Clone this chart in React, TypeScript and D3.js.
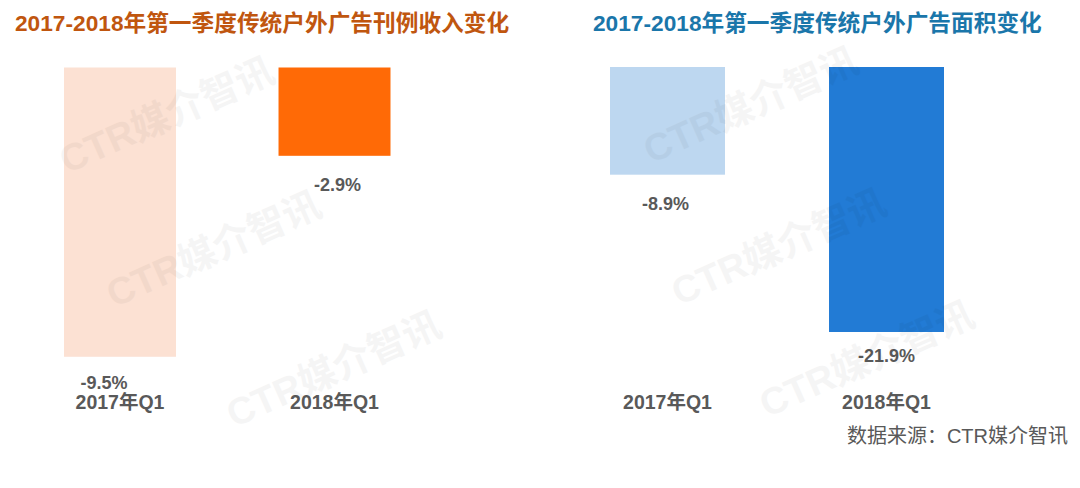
import React from "react";
import * as d3 from "d3";

const categories = ["2017年Q1", "2018年Q1"];
const revenueChange = [-9.5, -2.9];
const areaChange = [-8.9, -21.9];
const revenueLabels = ["-9.5%", "-2.9%"];
const areaLabels = ["-8.9%", "-21.9%"];
const titleLeft = "2017-2018年第一季度传统户外广告刊例收入变化";
const titleRight = "2017-2018年第一季度传统户外广告面积变化";
const sourceText = "数据来源：CTR媒介智讯";
const watermark = "CTR媒介智讯";

const FONT = "'Liberation Sans', Arial, 'Noto Sans CJK SC', sans-serif";
const W = 1080;
const H = 488;

type PanelProps = {
  values: number[];
  labels: string[];
  colors: string[];
  xRange: [number, number];
  pInner: number;
  yDomainMin: number;
  yRange: [number, number];
  labelDx: number[];
  labelDy: number[];
};

function Panel({ values, labels, colors, xRange, pInner, yDomainMin, yRange, labelDx, labelDy }: PanelProps) {
  const x = d3.scaleBand<string>().domain(categories).range(xRange).paddingInner(pInner).paddingOuter(0.2);
  const y = d3.scaleLinear().domain([0, yDomainMin]).range(yRange);
  return (
    <g>
      {categories.map((c, i) => (
        <rect
          key={c}
          x={x(c)}
          y={y(0)}
          width={x.bandwidth()}
          height={y(values[i]) - y(0)}
          fill={colors[i]}
        />
      ))}
      {categories.map((c, i) => (
        <text
          key={"l" + c}
          x={(x(c) as number) + x.bandwidth() / 2 + labelDx[i]}
          y={y(values[i]) + labelDy[i]}
          textAnchor="middle"
          fontFamily={FONT}
          fontWeight="bold"
          fontSize={18}
          fill="#595959"
        >
          {labels[i]}
        </text>
      ))}
      {categories.map((c) => (
        <text
          key={"c" + c}
          x={(x(c) as number) + x.bandwidth() / 2}
          y={409}
          textAnchor="middle"
          fontFamily={FONT}
          fontWeight="bold"
          fontSize={19.5}
          fill="#595959"
        >
          {c}
        </text>
      ))}
    </g>
  );
}

const wmPositions: [number, number][] = [
  [168, 118],
  [215, 252],
  [335, 372],
  [752, 108],
  [780, 250],
  [868, 362],
];

export default function App() {
  return (
    <svg
      width={W}
      height={H}
      style={{ position: "absolute", left: 0, top: 0, display: "block", background: "#fff" }}
    >
      <rect width={W} height={H} fill="#ffffff" />
      <text x={15} y={31} fontFamily={FONT} fontWeight="bold" fontSize={22.7} fill="#c0560f">
        {titleLeft}
      </text>
      <text x={593} y={31} fontFamily={FONT} fontWeight="bold" fontSize={22.7} fill="#1a76aa">
        {titleRight}
      </text>
      <Panel
        values={revenueChange}
        labels={revenueLabels}
        colors={["#fce1d3", "#ff6a06"]}
        xRange={[21.1, 433.4]}
        pInner={0.478}
        yDomainMin={-10}
        yRange={[67.5, 372]}
        labelDx={[-16, 3]}
        labelDy={[32, 35]}
      />
      <Panel
        values={areaChange}
        labels={areaLabels}
        colors={["#bdd7f0", "#227bd5"]}
        xRange={[566.2, 987.8]}
        pInner={0.475}
        yDomainMin={-25}
        yRange={[67, 369.5]}
        labelDx={[-2, 0]}
        labelDy={[35, 30]}
      />
      {wmPositions.map(([cx, cy], i) => (
        <text
          key={"wm" + i}
          x={cx}
          y={cy}
          textAnchor="middle"
          dominantBaseline="middle"
          transform={`rotate(-24 ${cx} ${cy})`}
          fontFamily={FONT}
          fontWeight="bold"
          fontSize={38}
          fill="#000"
          opacity={0.035}
        >
          {watermark}
        </text>
      ))}
      <text x={1068} y={443} textAnchor="end" fontFamily={FONT} fontSize={20} fill="#595959">
        {sourceText}
      </text>
    </svg>
  );
}
